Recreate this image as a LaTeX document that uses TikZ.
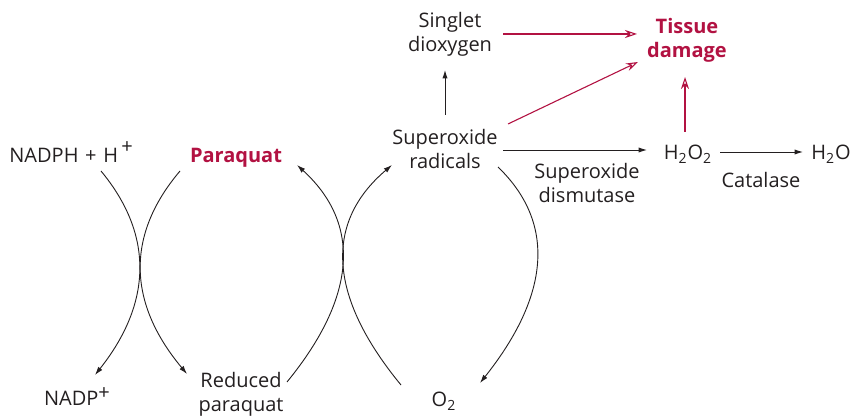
\documentclass[tikz,border=0pt]{standalone}
\usepackage{fontspec}
\setmainfont{Open Sans}
\usetikzlibrary{arrows.meta}
\definecolor{pqred}{RGB}{178,18,66}
\definecolor{ink}{RGB}{35,31,32}
\tikzset{
  lbl/.style={inner sep=0pt, align=center, text=ink, font=\fontsize{10}{12}\selectfont},
  redlbl/.style={lbl, text=pqred, font=\fontsize{10}{12}\selectfont\bfseries},
  blk/.style={draw=ink, line width=0.45pt, -{Latex[length=4.2pt,width=2.6pt]}},
  redarr/.style={draw=pqred, line width=0.55pt, -{Stealth[open,length=6pt,width=4pt,inset=2pt]}},
}
\begin{document}
\begin{tikzpicture}[x=0.5pt,y=-0.5pt]
\useasboundingbox (0,0) rectangle (852,416);
% nodes
\node[lbl, anchor=base west] (nadph) at (9,163) {NADPH\,\,+\,\,H\,\raisebox{0.85ex}{+}};
\node[redlbl, anchor=base] (paraquat) at (236,163) {Paraquat};
\node[lbl] (sup) at (445,149) {Superoxide\\radicals};
\node[lbl] (singlet) at (450,34) {Singlet\\dioxygen};
\node[redlbl] (tissue) at (687,40) {Tissue\\damage};
\node[lbl, anchor=base] (h2o2) at (688,160) {H\textsubscript{2}O\textsubscript{2}};
\node[lbl, anchor=base] (h2o) at (831,160) {H\textsubscript{2}O};
\node[lbl] (sod) at (587,183) {Superoxide\\dismutase};
\node[lbl] (cat) at (761,180) {Catalase};
\node[lbl, anchor=base] (nadp) at (77,406) {NADP\raisebox{0.6ex}{+}};
\node[lbl] (reduced) at (241,394) {Reduced\\paraquat};
\node[lbl, anchor=base] (o2) at (444,407) {O\textsubscript{2}};
% curve end points
\coordinate (c1a) at (101,171); \coordinate (c1b) at (95,375);
\coordinate (c2a) at (180,171); \coordinate (c2b) at (187,374);
\coordinate (c3a) at (287,382); \coordinate (c3b) at (297,165);
\coordinate (c4a) at (401,385); \coordinate (c4b) at (392,165);
\coordinate (c5a) at (498,167); \coordinate (c5b) at (480,383);
% curves
\draw[blk] (c1a) .. controls (154,235) and (152,303) .. (c1b);
\draw[blk] (c2a) .. controls (125.5,235.3) and (127.7,303) .. (c2b);
\draw[blk] (c3a) .. controls (357.5,295.7) and (361,223.3) .. (c3b);
\draw[blk] (c4a) .. controls (327.5,295.7) and (324.5,222.3) .. (c4b);
\draw[blk] (c5a) .. controls (556,223) and (550,295) .. (c5b);
% straight arrows
\coordinate (s1) at (445,115); \coordinate (s2) at (445,70);
\draw[blk] (s1) -- (s2);
\coordinate (h1) at (503,150); \coordinate (h2) at (647,150);
\draw[blk] (h1) -- (h2);
\coordinate (w1) at (720,152); \coordinate (w2) at (803,152);
\draw[blk] (w1) -- (w2);
\coordinate (r1a) at (503,34); \coordinate (r1b) at (637,34);
\draw[redarr] (r1a) -- (r1b);
\coordinate (r2a) at (508,124); \coordinate (r2b) at (638,62);
\draw[redarr] (r2a) -- (r2b);
\coordinate (r3a) at (685,132); \coordinate (r3b) at (685,77);
\draw[redarr] (r3a) -- (r3b);
\end{tikzpicture}
\end{document}
